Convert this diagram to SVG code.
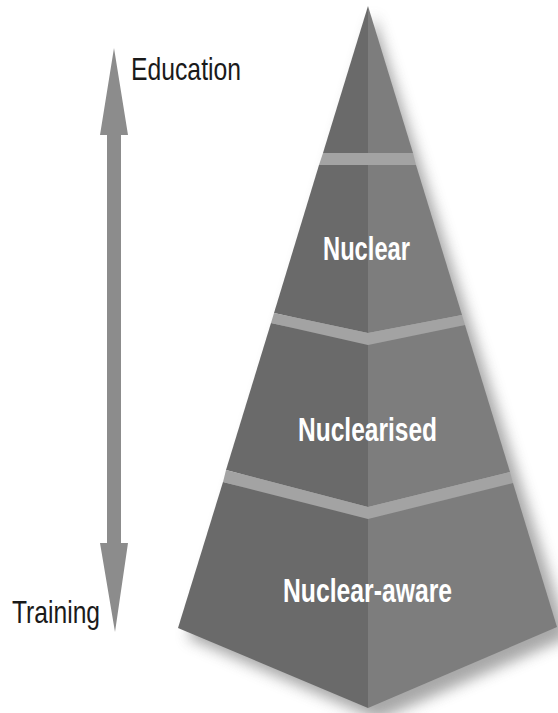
<svg xmlns="http://www.w3.org/2000/svg" width="558" height="713" viewBox="0 0 558 713">
  <style>
    .lf { fill: #6a6a6a; }
    .rf { fill: #7d7d7d; }
    .band { fill: #a3a3a3; }
    .tier-label { font-family: "Liberation Sans", Arial, sans-serif; font-weight: bold; font-size: 33px; fill: #ffffff; text-anchor: middle; }
    .axis-label { font-family: "Liberation Sans", Arial, sans-serif; font-size: 32px; fill: #1a1a1a; }
    .arrow { fill: #8c8c8c; }
  </style>
  <defs>
    <filter id="shadow" x="-20%" y="-20%" width="140%" height="140%">
      <feGaussianBlur stdDeviation="7"/>
    </filter>
  </defs>
  <rect width="558" height="713" fill="#ffffff"/>

  <!-- soft shadow -->
  <polygon points="368,10 182,632 372,714 563,631" fill="#6e6e6e" opacity="0.6" filter="url(#shadow)" transform="translate(6,6)"/>

  <g id="tier-apex">
    <polygon class="lf" points="368,6 323,153 368,153"/>
    <polygon class="rf" points="368,6 368,153 413,153"/>
  </g>
  <polygon class="band" points="323,153 413,153 416,165 319,165"/>

  <g id="tier-nuclear">
    <polygon class="lf" points="368,165 319,165 274,313 368,333"/>
    <polygon class="rf" points="368,165 416,165 462,315 368,333"/>
    <text class="tier-label" x="366.5" y="260" textLength="87" lengthAdjust="spacingAndGlyphs">Nuclear</text>
  </g>
  <polygon class="band" points="274,313 368,333 462,315 465,325 368,345 271,323"/>

  <g id="tier-nuclearised">
    <polygon class="lf" points="368,345 271,323 226,470 368,507"/>
    <polygon class="rf" points="368,345 465,325 510,472 368,507"/>
    <text class="tier-label" x="367.5" y="441" textLength="139" lengthAdjust="spacingAndGlyphs">Nuclearised</text>
  </g>
  <polygon class="band" points="226,470 368,507 510,472 513,483 368,519 223,482"/>

  <g id="tier-nuclear-aware">
    <polygon class="lf" points="368,519 223,482 178,628 368,708"/>
    <polygon class="rf" points="368,519 513,483 557,627 368,708"/>
    <text class="tier-label" x="367.5" y="602" textLength="169" lengthAdjust="spacingAndGlyphs">Nuclear-aware</text>
  </g>

  <g id="connectors">
    <polygon class="arrow" points="114,48 128,135 121,135 121,543 128,543 115,632 100,543 107,543 107,135 100,135"/>
  </g>

  <g id="label-education">
    <text class="axis-label" x="131" y="80" textLength="110" lengthAdjust="spacingAndGlyphs">Education</text>
  </g>
  <g id="label-training">
    <text class="axis-label" x="12" y="623" textLength="88" lengthAdjust="spacingAndGlyphs">Training</text>
  </g>
</svg>
